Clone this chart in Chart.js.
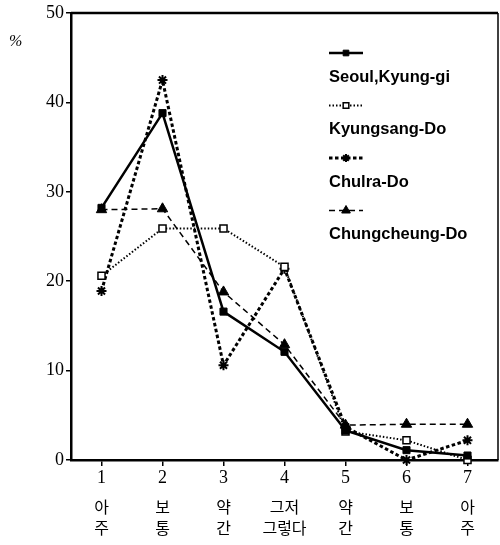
<!DOCTYPE html>
<html lang="ko">
<head>
  <meta charset="UTF-8">
  <title>Regional responses</title>
  <script src="https://cdn.jsdelivr.net/npm/chart.js"></script>
  <style>
    body { margin: 0; background: #fff; }
    .wrap { width: 500px; height: 545px; }
  </style>
</head>
<body>
  <div class="wrap"><canvas id="lineChart"></canvas></div>

  <script>
    const categories = ["1", "2", "3", "4", "5", "6", "7"];
    const koLabels = [["아", "주"], ["보", "통"], ["약", "간"], ["그저", "그렇다"], ["약", "간"], ["보", "통"], ["아", "주"]];
    const yTicks = [0, 10, 20, 30, 40, 50];

    const seoul = [28.2, 38.8, 16.6, 12.1, 3.3, 1.1, 0.5];
    const kyungsang = [20.6, 25.9, 25.9, 21.6, 3.2, 2.2, 0];
    const chulra = [18.9, 42.5, 10.6, 21.4, 3.7, 0, 2.2];
    const chungcheung = [28.0, 28.1, 18.8, 12.9, 3.9, 4.0, 4.0];

    const seriesNames = ["Seoul,Kyung-gi", "Kyungsang-Do", "Chulra-Do", "Chungcheung-Do"];

    function noSidePad(s) {
      s.paddingLeft = 0;
      s.paddingRight = 0;
    }

    // frame on top and right, % label, and the stacked legend
    const extras = {
      id: "extras",
      afterDraw(chart) {
        const { ctx, chartArea: a } = chart;
        ctx.save();
        ctx.strokeStyle = "#000";
        ctx.lineWidth = 2.5;
        ctx.beginPath();
        ctx.moveTo(a.left, a.top);
        ctx.lineTo(a.right, a.top);
        ctx.stroke();
        ctx.lineWidth = 1.5;
        ctx.beginPath();
        ctx.moveTo(a.right, a.top);
        ctx.lineTo(a.right, a.bottom);
        ctx.stroke();

        ctx.fillStyle = "#000";
        ctx.font = "italic 16px 'Liberation Serif'";
        ctx.textBaseline = "middle";
        ctx.fillText("%", 9, 42);

        // legend: sample line above each name
        const x0 = 329, y0 = 53, step = 52.5;
        chart.data.datasets.forEach((ds, i) => {
          const y = y0 + i * step;
          ctx.save();
          ctx.strokeStyle = "#000";
          ctx.lineWidth = ds.borderWidth;
          ctx.setLineDash(ds.borderDash || []);
          ctx.beginPath();
          ctx.moveTo(x0, y);
          ctx.lineTo(x0 + 34, y);
          ctx.stroke();
          ctx.restore();
          ctx.save();
          ctx.fillStyle = ds.pointBackgroundColor;
          ctx.strokeStyle = ds.pointBorderColor;
          ctx.lineWidth = ds.pointBorderWidth;
          Chart.helpers.drawPoint(ctx, {
            pointStyle: ds.pointStyle,
            radius: ds.pointRadius - 1,
            borderWidth: ds.pointBorderWidth
          }, x0 + 17, y);
          ctx.restore();
          ctx.fillStyle = "#000";
          ctx.font = "bold 16.5px 'Liberation Sans'";
          ctx.fillText(ds.label, x0, y + 24);
        });
        ctx.restore();
      }
    };

    const ctx = document.getElementById("lineChart").getContext("2d");
    new Chart(ctx, {
      type: "line",
      data: {
        labels: categories,
        datasets: [
          {
            label: seriesNames[0],
            data: seoul,
            borderColor: "#000",
            borderWidth: 2.5,
            pointStyle: "rect",
            pointRadius: 5,
            pointBackgroundColor: "#000",
            pointBorderColor: "#000",
            pointBorderWidth: 1
          },
          {
            label: seriesNames[1],
            data: kyungsang,
            borderColor: "#000",
            borderWidth: 2,
            borderDash: [1.5, 2],
            pointStyle: "rect",
            pointRadius: 5,
            pointBackgroundColor: "#fff",
            pointBorderColor: "#000",
            pointBorderWidth: 1.5
          },
          {
            label: seriesNames[2],
            data: chulra,
            borderColor: "#000",
            borderWidth: 3,
            borderDash: [3.5, 2.5],
            pointStyle: "star",
            pointRadius: 5,
            pointBackgroundColor: "#000",
            pointBorderColor: "#000",
            pointBorderWidth: 2
          },
          {
            label: seriesNames[3],
            data: chungcheung,
            borderColor: "#000",
            borderWidth: 1.5,
            borderDash: [6, 4],
            pointStyle: "triangle",
            pointRadius: 6,
            pointBackgroundColor: "#000",
            pointBorderColor: "#000",
            pointBorderWidth: 1
          }
        ]
      },
      options: {
        responsive: true,
        maintainAspectRatio: false,
        animation: false,
        clip: false,
        layout: { autoPadding: false, padding: { top: 13, right: 2, left: 0, bottom: 0 } },
        plugins: {
          legend: { display: false },
          tooltip: { enabled: false }
        },
        scales: {
          x: {
            type: "category",
            offset: true,
            grid: { display: true, drawOnChartArea: false, drawTicks: true, tickLength: 6, offset: false, color: "#000", lineWidth: 1.5 },
            border: { display: true, color: "#000", width: 2.5 },
            ticks: { color: "#000", padding: 1, font: { family: "'Liberation Serif'", size: 18 } },
            afterFit(s) { s.height = 28; noSidePad(s); }
          },
          x2: {
            type: "category",
            position: "bottom",
            labels: koLabels,
            offset: true,
            grid: { display: false },
            border: { display: false },
            ticks: { color: "#000", padding: 1, font: { family: "'Noto Sans CJK KR'", size: 16, lineHeight: 1.3 } },
            afterFit(s) { s.height = 57; noSidePad(s); }
          },
          y: {
            min: 0,
            max: 50,
            afterBuildTicks(s) { s.ticks = yTicks.map(v => ({ value: v })); },
            grid: { display: true, drawOnChartArea: false, drawTicks: true, tickLength: 5, color: "#000", lineWidth: 1.5 },
            border: { display: true, color: "#000", width: 2.5 },
            ticks: { color: "#000", padding: 2, font: { family: "'Liberation Serif'", size: 18 } },
            afterFit(s) { s.width = 71; }
          }
        }
      },
      plugins: [extras]
    });
  </script>
</body>
</html>
